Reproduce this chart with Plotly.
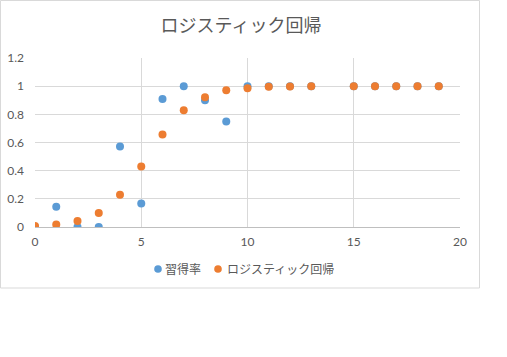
import plotly.graph_objects as go

x_vals = [0, 1, 2, 3, 4, 5, 6, 7, 8, 9, 10, 11, 12, 13, 15, 16, 17, 18, 19]
rate = [0, 0.143, 0, 0, 0.571, 0.167, 0.909, 1.0, 0.9, 0.75, 1.0, 1.0, 1.0, 1.0, 1.0, 1.0, 1.0, 1.0, 1.0]
logistic = [0.007, 0.017, 0.043, 0.1, 0.229, 0.429, 0.657, 0.829, 0.921, 0.971, 0.986, 0.995, 0.998, 0.999, 1.0, 1.0, 1.0, 1.0, 1.0]

name_rate = "習得率"
name_logi = "ロジスティック回帰"
title_text = "ロジスティック回帰"

x_ticks = [0, 5, 10, 15, 20]
y_ticks = [0, 0.2, 0.4, 0.6, 0.8, 1, 1.2]
y_tick_text = ["0", "0.2", "0.4", "0.6", "0.8", "1", "1.2"]

colors = ["#5B9BD5", "#ED7D31"]

W, H = 507, 357
ml, mr, mt, mb = 35, 47, 58, 130
pw = W - ml - mr
ph = H - mt - mb

def px_x(p):
    return (p - ml) / pw

def px_y(p):
    return (H - mb - p) / ph

fig = go.Figure()
fig.add_trace(go.Scatter(x=x_vals, y=rate, mode="markers", name=name_rate,
                         marker=dict(color=colors[0], size=8, line=dict(width=0))))
fig.add_trace(go.Scatter(x=x_vals, y=logistic, mode="markers", name=name_logi,
                         marker=dict(color=colors[1], size=8, line=dict(width=0))))

font_jp = "Noto Sans CJK JP"
font_num = "Lato, Noto Sans CJK JP"

fig.update_layout(
    width=W, height=H,
    margin=dict(l=ml, r=mr, t=mt, b=mb, pad=0, autoexpand=False),
    paper_bgcolor="white", plot_bgcolor="white",
    title=dict(text=title_text, x=241 / W, xref="container", xanchor="center",
               y=1 - 26 / H, yref="container", yanchor="middle",
               font=dict(family=font_jp, size=18, color="#595959")),
    showlegend=False,
    xaxis=dict(range=[0, 20], tickvals=x_ticks, showgrid=True, gridcolor="#d9d9d9",
               gridwidth=1, zeroline=False, showline=True, linecolor="#bfbfbf", linewidth=1,
               ticks="", tickfont=dict(family=font_num, size=12, color="#595959"),
               ticklabelstandoff=4, automargin=False, fixedrange=True),
    yaxis=dict(range=[0, 1.2], tickvals=y_ticks, ticktext=y_tick_text, showgrid=True,
               gridcolor="#d9d9d9", gridwidth=1, zeroline=False, showline=False,
               ticks="", tickfont=dict(family=font_num, size=12, color="#595959"),
               ticklabelstandoff=10, automargin=False, fixedrange=True),
)

# chart area border
fig.add_shape(type="rect", xref="paper", yref="paper",
              x0=px_x(0.5), x1=px_x(479.5), y0=px_y(288), y1=px_y(0.5),
              line=dict(color="#d9d9d9", width=1), fillcolor="rgba(0,0,0,0)", layer="below")

# legend (marker + label) laid out like the original chart's legend
legend_items = [(name_rate, colors[0], 158, 163), (name_logi, colors[1], 218, 225)]
ly = 269
for label, col, mx, tx in legend_items:
    fig.add_shape(type="circle", xref="paper", yref="paper",
                  x0=px_x(mx - 3.8), x1=px_x(mx + 3.8), y0=px_y(ly + 3.8), y1=px_y(ly - 3.8),
                  fillcolor=col, line=dict(width=0))
    fig.add_annotation(text=label, xref="paper", yref="paper", x=px_x(tx), y=px_y(ly - 1),
                       xanchor="left", yanchor="middle", showarrow=False,
                       font=dict(family=font_jp, size=12, color="#595959"))

fig.write_html("out.html", config={"displayModeBar": False},
               post_script="document.body.style.margin='0';")
